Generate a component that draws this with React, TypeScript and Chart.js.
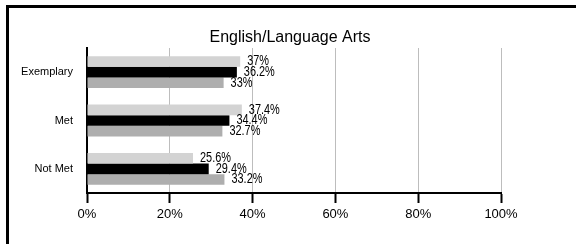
import React, { useEffect, useRef } from "react";
import { Chart, registerables } from "chart.js";

Chart.register(...registerables);

const TITLE = "English/Language Arts";
const categories = ["Exemplary", "Met", "Not Met"];
const seriesLight = [37, 37.4, 25.6];
const seriesBlack = [36.2, 34.4, 29.4];
const seriesDark = [33, 32.7, 33.2];
const xTicks = [0, 20, 40, 60, 80, 100];

const labelPlugin = {
  id: "barValueLabels",
  afterDatasetsDraw(chart: any) {
    const ctx = chart.ctx;
    chart.data.datasets.forEach((ds: any, i: number) => {
      const meta = chart.getDatasetMeta(i);
      meta.data.forEach((bar: any, j: number) => {
        ctx.save();
        ctx.font = '14px "Liberation Sans", Arial, sans-serif';
        ctx.fillStyle = "#000";
        ctx.textAlign = "left";
        ctx.textBaseline = "middle";
        ctx.translate(bar.x + 7, bar.y);
        ctx.scale(0.78, 1);
        ctx.fillText(ds.data[j] + "%", 0, 0);
        ctx.restore();
      });
    });
  },
};

const titlePlugin = {
  id: "customTitle",
  afterDraw(chart: any) {
    const ctx = chart.ctx;
    ctx.save();
    ctx.font = '16px "Liberation Sans", Arial, sans-serif';
    ctx.fillStyle = "#000";
    ctx.textAlign = "center";
    ctx.textBaseline = "alphabetic";
    ctx.fillText(TITLE, 290, 41.5);
    ctx.restore();
  },
};

export default function App() {
  const ref = useRef<HTMLCanvasElement>(null);
  useEffect(() => {
    if (!ref.current) return;
    const chart = new Chart(ref.current, {
      type: "bar",
      data: {
        labels: categories,
        datasets: [
          { data: seriesLight, backgroundColor: "#d3d3d3", borderWidth: 0 },
          { data: seriesBlack, backgroundColor: "#000000", borderWidth: 0 },
          { data: seriesDark, backgroundColor: "#aeaeae", borderWidth: 0 },
        ],
      },
      options: {
        indexAxis: "y",
        responsive: false,
        animation: false,
        devicePixelRatio: 1,
        layout: { padding: { left: 0, top: 48, right: 75, bottom: 0 } },
        datasets: { bar: { categoryPercentage: 0.66, barPercentage: 1 } },
        plugins: {
          legend: { display: false },
          title: { display: false },
          tooltip: { enabled: false },
        },
        scales: {
          x: {
            min: 0,
            max: 100,
            afterBuildTicks: (s: any) => {
              s.ticks = xTicks.map((v) => ({ value: v }));
            },
            afterFit: (s: any) => {
              s.height = 51;
            },
            grid: {
              color: "#bdbdbd",
              lineWidth: 1,
              tickColor: "#000",
              tickLength: 10,
              tickWidth: 2,
            },
            border: { display: true, color: "#000", width: 2 },
            ticks: {
              color: "#000",
              padding: 4,
              font: { family: '"Liberation Sans", Arial, sans-serif', size: 13 },
              callback: (v: any) => v + "%",
            },
          },
          y: {
            afterFit: (s: any) => {
              s.width = 87;
            },
            grid: { display: false },
            border: { display: true, color: "#000", width: 2 },
            ticks: {
              color: "#000",
              padding: 6,
              font: { family: '"Liberation Sans", Arial, sans-serif', size: 11 },
            },
          },
        },
      },
      plugins: [labelPlugin, titlePlugin],
    } as any);
    return () => chart.destroy();
  }, []);
  return (
    <div style={{ position: "fixed", left: 0, top: 0, width: 576, height: 244, background: "#fff" }}>
      <canvas ref={ref} width={576} height={244} style={{ display: "block", width: 576, height: 244 }} />
      <div
        style={{
          position: "absolute",
          left: 6,
          top: 5,
          width: 570,
          height: 239,
          borderLeft: "3px solid #000",
          borderTop: "3px solid #000",
          boxSizing: "border-box",
          pointerEvents: "none",
        }}
      />
    </div>
  );
}
